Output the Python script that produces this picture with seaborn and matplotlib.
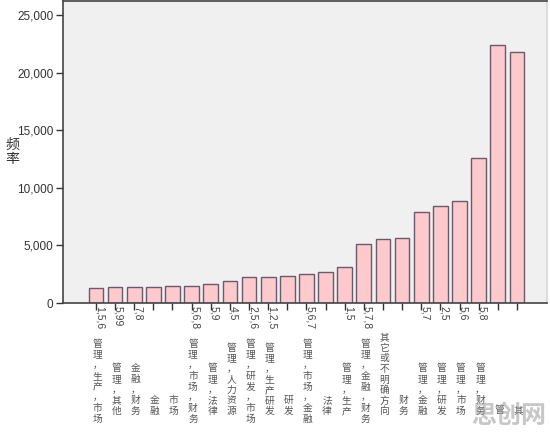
"""Frequency of job-direction categories (SPSS style bar chart)."""

import matplotlib

matplotlib.use("Agg")
import matplotlib.pyplot as plt
import pandas as pd
import seaborn as sns
from matplotlib.ticker import FuncFormatter, MultipleLocator

# --- data ---
codes = ["1,5,6", "5,99", "7,8", "", "", "5,6,8", "5,9", "4,5", "2,5,6",
         "1,2,5", "", "5,6,7", "", "1,5", "5,7,8", "", "", "5,7", "2,5",
         "5,6", "5,8", "", ""]
names = ["管理，生产，市场", "管理，其他", "金融，财务", "金融", "市场",
         "管理，市场，财务", "管理，法律", "管理，人力资源", "管理，研发，市场",
         "管理，生产研发", "研发", "管理，市场，金融", "法律", "管理，生产",
         "管理，金融，财务", "其它或不明确方向", "财务", "管理，金融",
         "管理，研发", "管理，市场", "管理，财务", "管", "其"]
freq = [1340, 1390, 1420, 1420, 1480, 1510, 1685, 1910, 2230, 2290, 2320,
        2550, 2670, 3100, 5130, 5530, 5620, 7940, 8400, 8900, 12570, 22420,
        21810]

sns.set_theme(style="white")
plt.rcParams["font.family"] = ["Liberation Sans", "Noto Sans CJK SC", "DejaVu Sans"]

df = pd.DataFrame({"cat": [f"c{i}" for i in range(len(freq))], "freq": freq})

fig = plt.figure(figsize=(5.5, 4.36), dpi=100)
ax = fig.add_axes([63 / 550, 133 / 436, 484 / 550, 302 / 436])
ax.set_facecolor("#f0f0f0")

sns.barplot(data=df, x="cat", y="freq", color="#fcc9cd", saturation=1,
            edgecolor="#6b5a6b", linewidth=1.0, width=0.77, ax=ax)

ax.set_xlim(-1.72, len(freq) - 1 + 1.57)
ax.set_ylim(0, 26240)
ax.yaxis.set_major_locator(MultipleLocator(5000))
ax.yaxis.set_major_formatter(FuncFormatter(lambda v, p: f"{int(v):,}"))
ax.tick_params(axis="y", length=5, width=1, color="#333333", labelsize=8.5,
               labelcolor="#333333", pad=2, left=True)
ax.tick_params(axis="x", length=5, width=1, color="#333333", bottom=True,
               labelbottom=False)

for side in ["left", "bottom", "top"]:
    ax.spines[side].set_color("#444444")
    ax.spines[side].set_linewidth(1.2)
ax.spines["right"].set_color("#d8d8d8")

ax.set_xlabel("")
ax.set_ylabel("频\n率", rotation=0, fontsize=10, color="#333333",
              va="center", ha="center", linespacing=1.0)
ax.yaxis.set_label_coords(-0.105, 0.5)

# vertical category labels: codes rotated, Chinese characters stacked upright
px = 0.72  # points per pixel at dpi 100
for i, (code, name) in enumerate(zip(codes, names)):
    code_end = 4
    if code:
        ax.annotate(code, xy=(i, 0), xycoords=("data", "axes fraction"),
                    xytext=(3.5 * px, -3 * px), textcoords="offset points",
                    rotation=-90, ha="center", va="top", fontsize=7.5,
                    color="#444444")
        code_end = 4 + len(code) * 5.6
    text_h = len(name) * 10.5
    start = max(code_end + 4, 113 - text_h)
    ax.annotate("\n".join(name), xy=(i, 0), xycoords=("data", "axes fraction"),
                xytext=(1, -start * px), textcoords="offset points",
                ha="center", va="top", fontsize=7, color="#555555",
                linespacing=1.08)

# site watermark that sits over the bottom-right labels
fig.text(0.925, 0.045, "思创网", fontsize=18, color="#9a9a9a", alpha=0.55,
         ha="center", va="center", fontweight="bold")

fig.savefig("out.png", dpi=100)
